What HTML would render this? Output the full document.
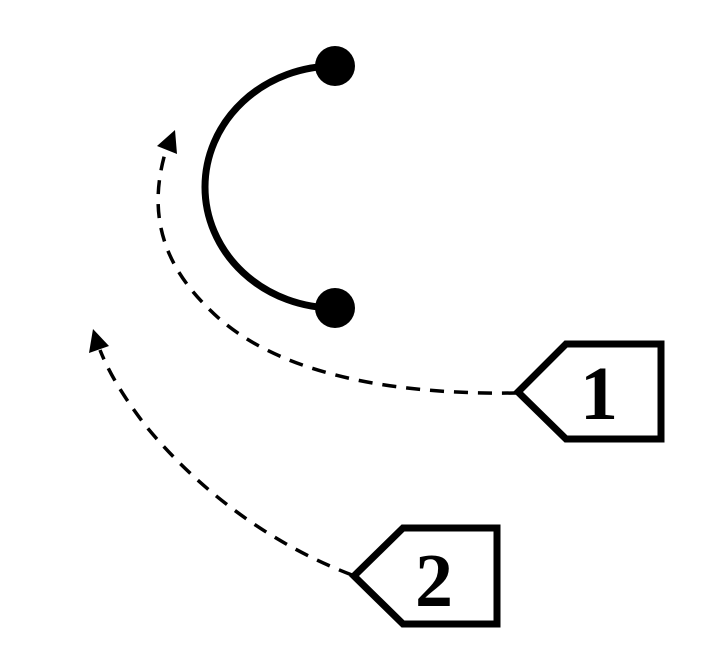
<!DOCTYPE html>
<html><head><style>html,body{margin:0;padding:0;background:#fff;}svg{display:block}</style></head>
<body>
<svg width="723" height="652" viewBox="0 0 723 652" xmlns="http://www.w3.org/2000/svg">
<path d="M335,66 A130,121 0 0 0 335,308" fill="none" stroke="#000" stroke-width="7"/>
<circle cx="335" cy="66" r="20" fill="#000"/>
<circle cx="335" cy="308" r="20" fill="#000"/>
<path d="M516,393 C 380,395 270,370 210,310 C 160,262 148,210 166,150" fill="none" stroke="#000" stroke-width="3.5" stroke-dasharray="14,10"/>
<polygon points="175,130 157,146 177,154" fill="#000"/>
<path d="M352,575 C 260,540 190,480 145,425 C 120,392 108,370 100,350" fill="none" stroke="#000" stroke-width="3.5" stroke-dasharray="14,10"/>
<polygon points="93,329 89,353 109,346" fill="#000"/>
<polygon points="518,392 566,344 661,344 661,439 566,439" fill="#fff" stroke="#000" stroke-width="7"/>
<text x="599" y="419" font-family="Liberation Serif, serif" font-weight="bold" font-size="76" text-anchor="middle">1</text>
<polygon points="354,576 403,528 497,528 497,624 403,624" fill="#fff" stroke="#000" stroke-width="7"/>
<text x="434" y="606" font-family="Liberation Serif, serif" font-weight="bold" font-size="76" text-anchor="middle">2</text>
</svg>
</body></html>
